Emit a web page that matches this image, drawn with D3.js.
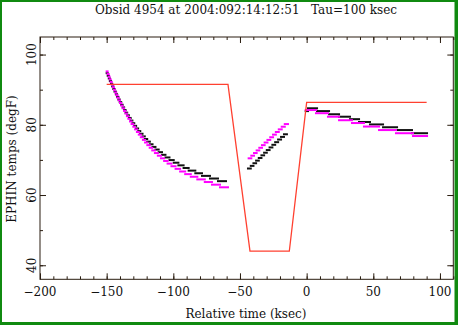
<!DOCTYPE html>
<html><head><meta charset="utf-8">
<script src="https://cdn.jsdelivr.net/npm/d3@7"></script>
<style>body{margin:0;background:#fff}svg{display:block}</style>
</head><body><script>
// ---- data ----
const titleText = "Obsid 4954 at 2004:092:14:12:51   Tau=100 ksec";
const xLabel = "Relative time (ksec)";
const yLabel = "EPHIN temps (degF)";
const xTickVals = [-200, -150, -100, -50, 0, 50, 100];
const xTickLabels = ["\u2212200", "\u2212150", "\u2212100", "\u221250", "0", "50", "100"];
const yTickVals = [40, 60, 80, 100];
const yTickLabels = ["40", "60", "80", "100"];

// predicted (red) profile
const predTime = [-150, -59, -42.5, -13, 0, 90];
const predTemp = [91.5, 91.5, 44, 44, 86.4, 86.4];

// black series: level boundaries (n+1) and levels (n) for each phase
const blackCoolTime = [-150.0,-149.2,-148.4,-147.6,-146.7,-145.9,-145.0,-144.1,-143.1,-142.2,-141.2,-140.2,-139.1,-138.0,-136.9,-135.8,-134.6,-133.3,-132.0,-130.7,-129.3,-127.9,-126.4,-124.8,-123.1,-121.4,-119.6,-117.6,-115.6,-113.4,-111.0,-108.5,-105.9,-102.9,-99.7,-96.2,-92.3,-88.5,-83.5,-78.5,-72.5,-66.5,-60.5];
const blackCoolTemp = [94.7,93.95,93.2,92.45,91.7,90.95,90.2,89.45,88.7,87.95,87.2,86.45,85.7,84.95,84.2,83.45,82.7,81.95,81.2,80.45,79.7,78.95,78.2,77.45,76.7,75.95,75.2,74.45,73.7,72.95,72.2,71.45,70.7,69.95,69.2,68.45,67.7,66.95,66.2,65.45,64.7,63.95];
const blackWarmTime = [-44.0,-41.9,-39.9,-37.9,-35.9,-33.9,-31.9,-29.9,-27.8,-25.7,-23.6,-21.4,-19.2,-17.0,-14.8];
const blackWarmTemp = [67.55,68.3,69.05,69.8,70.55,71.3,72.05,72.8,73.55,74.3,75.05,75.8,76.55,77.3];
const blackLateTime = [-0.7,1.0,7.8,16.8,24.3,32.5,39.3,47.5,57.3,67.8,79.0,90.3];
const blackLateTemp = [83.9,84.7,83.9,83.0,82.3,81.6,80.8,80.1,79.3,78.5,77.6];

// magenta series
const magCoolTime = [-150.0,-149.3,-148.5,-147.8,-147.0,-146.2,-145.4,-144.5,-143.7,-142.8,-141.9,-141.0,-140.0,-139.0,-138.0,-137.0,-135.9,-134.8,-133.7,-132.5,-131.3,-130.0,-128.7,-127.3,-125.9,-124.4,-122.8,-121.2,-119.5,-117.7,-115.8,-113.8,-111.6,-109.3,-106.9,-104.3,-101.4,-98.3,-94.9,-91.1,-86.9,-82.0,-76.4,-71.0,-65.0,-59.0];
const magCoolTemp = [95.2,94.45,93.7,92.95,92.2,91.45,90.7,89.95,89.2,88.45,87.7,86.95,86.2,85.45,84.7,83.95,83.2,82.45,81.7,80.95,80.2,79.45,78.7,77.95,77.2,76.45,75.7,74.95,74.2,73.45,72.7,71.95,71.2,70.45,69.7,68.95,68.2,67.45,66.7,65.95,65.2,64.45,63.7,62.95,62.2];
const magWarmTime = [-43.5,-41.5,-39.5,-37.5,-35.5,-33.5,-31.5,-29.4,-27.3,-25.2,-23.1,-20.9,-18.7,-16.4,-14.0];
const magWarmTemp = [70.45,71.2,71.95,72.7,73.45,74.2,74.95,75.7,76.45,77.2,77.95,78.7,79.45,80.2];
const magLateTime = [-0.7,7.0,16.0,24.3,34.0,43.0,54.3,67.0,79.8,90.3];
const magLateTemp = [84.2,83.3,82.3,81.3,80.5,79.5,78.5,77.6,76.8];

// ---- drawing ----
const W = 458, H = 325;
const L = 40, R = 453.3, T = 37, B = 279.3;
const ink = "#2a1d10";
const serif = "'DejaVu Serif', serif";

const svg = d3.select("body").append("svg").attr("width", W).attr("height", H);
svg.append("rect").attr("width", W).attr("height", H).attr("fill", "#fff");
// green border
svg.append("rect").attr("x", 0).attr("y", 0).attr("width", 2).attr("height", H).attr("fill", "#108a10");
svg.append("rect").attr("x", 0).attr("y", 0).attr("width", W).attr("height", 2).attr("fill", "#108a10");
svg.append("rect").attr("x", 454.5).attr("y", 0).attr("width", 4).attr("height", H).attr("fill", "#108a10");
svg.append("rect").attr("x", 0).attr("y", 322).attr("width", W).attr("height", 3).attr("fill", "#108a10");

const x = d3.scaleLinear().domain([-200, 110]).range([L, R]);
const y = d3.scaleLinear().domain([36, 105]).range([B, T]);

const xMinor = d3.range(-200, 111, 10);
const yMinor = d3.range(40, 105, 10);

function tickAxis(gen, vals, size, tx, ty) {
  const g = svg.append("g").attr("transform", `translate(${tx},${ty})`)
    .call(gen.tickValues(vals).tickSize(size).tickFormat(""));
  g.select(".domain").remove();
  g.selectAll(".tick line").attr("stroke", ink).attr("stroke-width", 1);
  return g;
}
tickAxis(d3.axisBottom(x), xMinor, -3, 0, B);
tickAxis(d3.axisBottom(x), xTickVals, -6, 0, B);
tickAxis(d3.axisTop(x), xMinor, -3, 0, T);
tickAxis(d3.axisTop(x), xTickVals, -6, 0, T);
tickAxis(d3.axisLeft(y), yMinor, -3, L, 0);
tickAxis(d3.axisLeft(y), yTickVals, -6, L, 0);
tickAxis(d3.axisRight(y), yMinor, -3, R, 0);
tickAxis(d3.axisRight(y), yTickVals, -6, R, 0);

svg.append("rect").attr("x", L).attr("y", T).attr("width", R - L).attr("height", B - T)
  .attr("fill", "none").attr("stroke", ink).attr("stroke-width", 1);

// tick labels
svg.append("g").selectAll("text").data(xTickVals).join("text")
  .attr("x", d => x(d)).attr("y", 296)
  .attr("text-anchor", "middle").attr("font-family", serif).attr("font-size", 12).attr("fill", "#111")
  .text((d, i) => xTickLabels[i]);
svg.append("g").selectAll("text").data(yTickVals).join("text")
  .attr("transform", d => `translate(36,${y(d)}) rotate(-90)`)
  .attr("text-anchor", "middle").attr("font-family", serif).attr("font-size", 12).attr("fill", "#111")
  .text((d, i) => yTickLabels[i]);

// titles
svg.append("text").attr("x", 246).attr("y", 13.5).attr("text-anchor", "middle")
  .attr("font-family", serif).attr("font-size", 12).attr("fill", "#111").attr("xml:space", "preserve")
  .style("white-space", "pre").text(titleText);
svg.append("text").attr("x", 246).attr("y", 318).attr("text-anchor", "middle")
  .attr("font-family", serif).attr("font-size", 12).attr("fill", "#111").text(xLabel);
svg.append("text").attr("transform", `translate(16,${159}) rotate(-90)`).attr("text-anchor", "middle")
  .attr("font-family", serif).attr("font-size", 12).attr("fill", "#111").text(yLabel);

// dashes
function dashes(times, temps, color) {
  const segs = temps.map((v, i) => ({t0: times[i], t1: times[i + 1], v}));
  svg.append("g").selectAll("rect").data(segs).join("rect")
    .attr("x", d => x(d.t0) - 1)
    .attr("width", d => x(d.t1) - x(d.t0) + 2)
    .attr("y", d => y(d.v) - 1)
    .attr("height", 2)
    .attr("fill", color);
}
dashes(blackCoolTime, blackCoolTemp, "#111");
dashes(blackWarmTime, blackWarmTemp, "#111");
dashes(blackLateTime, blackLateTemp, "#111");
dashes(magCoolTime, magCoolTemp, "#ff00ff");
dashes(magWarmTime, magWarmTemp, "#ff00ff");
dashes(magLateTime, magLateTemp, "#ff00ff");

// predicted line
const line = d3.line().x(d => x(d[0])).y(d => y(d[1]));
svg.append("path").datum(predTime.map((t, i) => [t, predTemp[i]]))
  .attr("d", line).attr("fill", "none").attr("stroke", "#ff4030").attr("stroke-width", 1.3);
</script></body></html>
